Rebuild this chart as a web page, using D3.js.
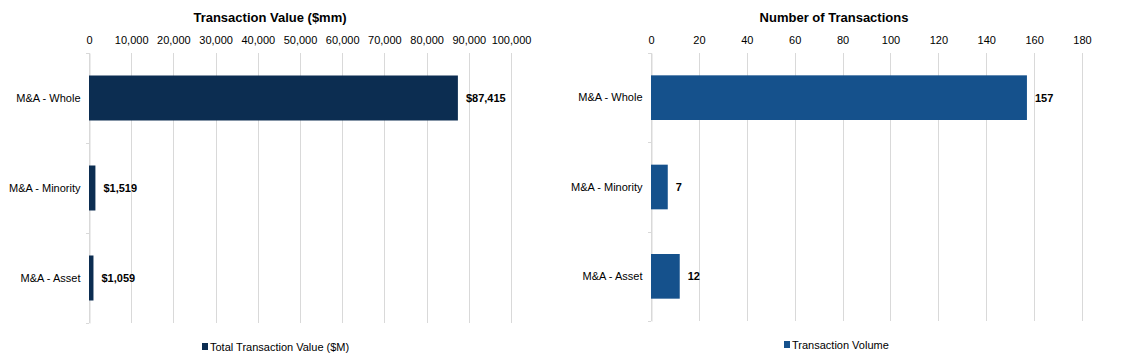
<!DOCTYPE html>
<html>
<head>
<meta charset="utf-8">
<script src="https://cdn.jsdelivr.net/npm/d3@7/dist/d3.min.js"></script>
<style>
  html, body { margin: 0; padding: 0; background: #fff; }
  svg { display: block; font-family: Arial, "Liberation Sans", sans-serif; }
</style>
</head>
<body>
<svg id="chart" width="1124" height="357"></svg>
<script>
const categories = ["M&A - Whole", "M&A - Minority", "M&A - Asset"];
const valueSeries = [87415, 1519, 1059];
const countSeries = [157, 7, 12];
const valueTicks = [0, 10000, 20000, 30000, 40000, 50000, 60000, 70000, 80000, 90000, 100000];
const countTicks = [0, 20, 40, 60, 80, 100, 120, 140, 160, 180];

const svg = d3.select("#chart");
const gridColor = "#d9d9d9";

function drawPanel(cfg) {
  const g = svg.append("g");
  const x = d3.scaleLinear().domain([0, cfg.max]).range([cfg.x0, cfg.x1]);
  const y = d3.scaleBand().domain(categories).range([cfg.y0, cfg.y1])
    .paddingInner(0.5).paddingOuter(0.25);

  // title
  g.append("text").attr("x", cfg.titleX).attr("y", 22)
    .attr("text-anchor", "middle").attr("font-size", 13).attr("font-weight", "bold")
    .attr("fill", "#000").text(cfg.title);

  // gridlines
  g.selectAll(".grid").data(cfg.ticks).enter().append("line")
    .attr("x1", d => Math.round(x(d)) + 0.5).attr("x2", d => Math.round(x(d)) + 0.5)
    .attr("y1", cfg.y0).attr("y2", cfg.y1)
    .attr("stroke", gridColor).attr("stroke-width", 1);

  // top axis labels
  const ax = d3.axisTop(x).tickValues(cfg.ticks).tickSize(0).tickPadding(0)
    .tickFormat(cfg.tickFmt);
  const axG = g.append("g").attr("transform", `translate(0,${44})`).call(ax);
  axG.select(".domain").remove();
  axG.selectAll("text").attr("font-size", 11).attr("fill", "#000")
    .attr("font-family", "Arial, 'Liberation Sans', sans-serif");

  // category axis
  const yAx = d3.axisLeft(y).tickSize(0).tickPadding(9);
  const yG = g.append("g").attr("transform", `translate(${Math.round(cfg.x0) + 0.5},0)`).call(yAx);
  yG.select(".domain").attr("stroke", gridColor);
  yG.selectAll("text").attr("font-size", 11).attr("fill", "#000")
    .attr("font-family", "Arial, 'Liberation Sans', sans-serif");
  // band boundary ticks
  const bounds = [cfg.y0].concat(categories.map(c => y(c) + y.bandwidth() + y.step() * y.paddingInner() / 2));
  bounds[bounds.length - 1] = cfg.y1;
  g.selectAll(".btick").data(bounds).enter().append("line")
    .attr("x1", Math.round(cfg.x0) - 3).attr("x2", Math.round(cfg.x0))
    .attr("y1", d => Math.round(d) + 0.5).attr("y2", d => Math.round(d) + 0.5)
    .attr("stroke", gridColor);

  // bars
  g.selectAll(".bar").data(cfg.values).enter().append("rect")
    .attr("x", x(0)).attr("y", (d, i) => y(categories[i]))
    .attr("width", d => x(d) - x(0)).attr("height", y.bandwidth())
    .attr("fill", cfg.color);

  // value labels
  g.selectAll(".vlab").data(cfg.values).enter().append("text")
    .attr("x", d => x(d) + 8).attr("y", (d, i) => y(categories[i]) + y.bandwidth() / 2)
    .attr("dy", "0.35em").attr("font-size", 11).attr("font-weight", "bold")
    .attr("fill", "#000").text(cfg.valFmt);

  // legend
  const lg = g.append("g").attr("transform", `translate(${cfg.legendX},${cfg.legendY})`);
  lg.append("rect").attr("x", 0).attr("y", -4).attr("width", 6).attr("height", 7).attr("fill", cfg.color);
  lg.append("text").attr("x", 8).attr("y", 0).attr("dy", "0.35em")
    .attr("font-size", 11).attr("fill", "#000").text(cfg.legend);
}

drawPanel({
  title: "Transaction Value ($mm)", titleX: 270,
  max: 100000, ticks: valueTicks, tickFmt: d3.format(","),
  x0: 89, x1: 511, y0: 53, y1: 323,
  values: valueSeries, color: "#0c2d51",
  valFmt: d => "$" + d3.format(",")(d),
  legend: "Total Transaction Value ($M)", legendX: 202, legendY: 347
});

drawPanel({
  title: "Number of Transactions", titleX: 834,
  max: 180, ticks: countTicks, tickFmt: d3.format("d"),
  x0: 651, x1: 1082, y0: 53, y1: 321,
  values: countSeries, color: "#15518c",
  valFmt: d => d3.format(",")(d),
  legend: "Transaction Volume", legendX: 784, legendY: 345
});
</script>
</body>
</html>
